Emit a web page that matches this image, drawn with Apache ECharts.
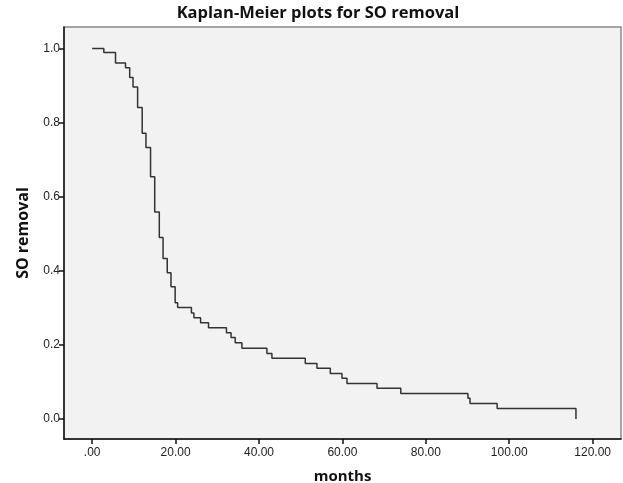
<!DOCTYPE html>
<html>
<head>
<meta charset="utf-8">
<style>
  html, body { margin: 0; padding: 0; background: #fff; }
  #chart { width: 623px; height: 483px; }
</style>
<script src="https://cdn.jsdelivr.net/npm/echarts@6/dist/echarts.min.js"></script>
</head>
<body>
<div id="chart"></div>
<script>
// Kaplan-Meier step points: time of event (months) and survival after it
const months = [0, 2.8, 5.6, 8.0, 9.0, 9.8, 10.9, 12.0, 12.9, 14.0, 15.0, 16.1, 17.0, 18.0, 18.9, 19.9, 20.5,
  23.8, 24.4, 26.0, 27.9, 32.2, 33.3, 34.3, 35.9, 41.9, 43.1, 51.1, 53.9, 57.1, 59.9, 61.1, 68.3, 74.0,
  90.1, 90.6, 97.1, 116.0]
const survival = [1.0, 0.989, 0.961, 0.948, 0.922, 0.896, 0.841, 0.771, 0.733, 0.654, 0.559, 0.490, 0.433, 0.395, 0.357, 0.314, 0.301,
  0.286, 0.273, 0.260, 0.246, 0.233, 0.220, 0.206, 0.191, 0.177, 0.164, 0.150, 0.137, 0.123, 0.110, 0.096, 0.083, 0.069,
  0.056, 0.042, 0.028, 0.0]

const xTicks = [0, 20, 40, 60, 80, 100, 120]
const yTicks = [0, 0.2, 0.4, 0.6, 0.8, 1.0]

const font = 'Liberation Sans'

const chart = echarts.init(document.getElementById('chart'))
chart.setOption({
  animation: false,
  title: {
    text: 'Kaplan-Meier plots for SO removal',
    left: 313,
    textAlign: 'center',
    top: 0,
    textStyle: { fontFamily: 'Open Sans', fontWeight: 'bold', fontSize: 16.5, color: '#111' }
  },
  grid: {
    left: 64,
    right: 2,
    top: 27,
    bottom: 44,
    outerBoundsMode: 'none',
    containLabel: false,
    show: true,
    backgroundColor: '#f2f2f2',
    borderColor: '#8a8a8a',
    borderWidth: 1.5
  },
  xAxis: {
    type: 'value',
    min: -6.75,
    max: 126.8,
    name: 'months',
    nameLocation: 'middle',
    nameGap: 30,
    nameTextStyle: { fontFamily: 'Open Sans', fontWeight: 'bold', fontSize: 15, color: '#111' },
    splitLine: { show: false },
    axisLine: { onZero: false, lineStyle: { color: '#111', width: 1.5 } },
    axisTick: { customValues: xTicks, length: 5, lineStyle: { color: '#111', width: 1.5 } },
    axisLabel: {
      customValues: xTicks,
      fontFamily: font,
      fontSize: 12,
      color: '#222',
      margin: 8,
      formatter: v => (v === 0 ? '.00' : v.toFixed(2))
    }
  },
  yAxis: {
    type: 'value',
    min: -0.054,
    max: 1.058,
    name: 'SO removal',
    nameLocation: 'middle',
    nameGap: 33,
    nameTextStyle: { fontFamily: 'Open Sans', fontWeight: 'bold', fontSize: 16, color: '#111' },
    splitLine: { show: false },
    axisLine: { show: true, onZero: false, lineStyle: { color: '#111', width: 1.5 } },
    axisTick: { show: true, customValues: yTicks, length: 5, lineStyle: { color: '#111', width: 1.5 } },
    axisLabel: {
      customValues: yTicks,
      fontFamily: font,
      fontSize: 12,
      color: '#222',
      margin: 4,
      formatter: v => v.toFixed(1)
    }
  },
  series: [{
    type: 'line',
    step: 'end',
    data: months.map((m, i) => [m, survival[i]]),
    showSymbol: false,
    lineStyle: { color: '#333', width: 1.5 }
  }]
})
</script>
</body>
</html>
